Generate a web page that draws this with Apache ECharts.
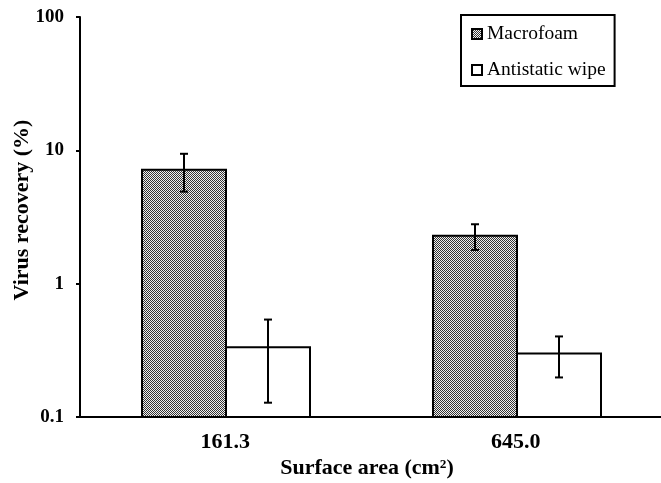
<!DOCTYPE html>
<html>
<head>
<meta charset="utf-8">
<script src="https://cdn.jsdelivr.net/npm/echarts@6/dist/echarts.min.js"></script>
<style>
  html, body { margin: 0; padding: 0; background: #fff; }
  #chart { width: 661px; height: 483px; }
</style>
</head>
<body>
<div id="chart"></div>
<script>
const categories = ["161.3", "645.0"];
const macrofoam = [7.16, 2.29];
const macrofoamErr = [2.26, 0.5];
const antistatic = [0.333, 0.3];
const antistaticErr = [0.205, 0.102];
const yBase = 0.1;

const font = "Liberation Serif";
const barW = 84;
const shift = 1; // bars sit a touch right of the band centre in the original

// fine grey checker fill like the original bars
function checker() {
  const c = document.createElement("canvas");
  c.width = 2;
  c.height = 2;
  const ctx = c.getContext("2d");
  ctx.fillStyle = "#f0f0f0";
  ctx.fillRect(0, 0, 2, 2);
  ctx.fillStyle = "#353535";
  ctx.fillRect(0, 0, 1, 1);
  ctx.fillRect(1, 1, 1, 1);
  return c;
}

// bars drawn from the 0.1 floor of the log axis (bar series would start at 1)
function barSeries(name, values, offset, fill) {
  return {
    name,
    type: "custom",
    z: 2,
    itemStyle: { color: fill, borderColor: "#000", borderWidth: 2 },
    data: values.map((v, i) => [i, v]),
    renderItem(params, api) {
      const top = api.coord([api.value(0), api.value(1)]);
      const bottom = api.coord([api.value(0), yBase]);
      const x = Math.round(top[0] + offset - barW / 2) + shift;
      return {
        type: "rect",
        shape: { x, y: top[1], width: barW, height: bottom[1] - top[1] },
        style: Object.assign(api.style(), { stroke: "#000", lineWidth: 2 }),
      };
    },
  };
}

function errorSeries(values, errs, offset) {
  return {
    type: "custom",
    z: 5,
    silent: true,
    data: values.map((v, i) => [i, v, errs[i]]),
    renderItem(params, api) {
      const i = api.value(0);
      const v = api.value(1);
      const e = api.value(2);
      const hi = api.coord([i, v + e]);
      const lo = api.coord([i, v - e]);
      const x = Math.round(hi[0] + offset) + shift;
      const cap = 4;
      const style = { stroke: "#000", lineWidth: 2 };
      return {
        type: "group",
        children: [
          { type: "line", shape: { x1: x, y1: hi[1], x2: x, y2: lo[1] }, style },
          { type: "line", shape: { x1: x - cap, y1: hi[1], x2: x + cap, y2: hi[1] }, style },
          { type: "line", shape: { x1: x - cap, y1: lo[1], x2: x + cap, y2: lo[1] }, style },
        ],
      };
    },
  };
}

const myChart = echarts.init(document.getElementById("chart"));
myChart.setOption({
  animation: false,
  backgroundColor: "#fff",
  textStyle: { fontFamily: font },
  grid: { left: 80, top: 17, width: 585, height: 400 },
  legend: {
    orient: "vertical",
    left: 461,
    top: 15,
    data: ["Macrofoam", "Antistatic wipe"],
    icon: "rect",
    itemWidth: 10,
    itemHeight: 10,
    itemGap: 16,
    padding: [9, 9, 6, 10],
    borderColor: "#000",
    borderWidth: 2,
    textStyle: { fontFamily: font, fontSize: 19.5, color: "#000" },
  },
  xAxis: {
    type: "category",
    data: categories,
    axisTick: { show: false },
    axisLine: { lineStyle: { color: "#000", width: 2 } },
    axisLabel: {
      color: "#000",
      fontFamily: font,
      fontWeight: "bold",
      fontSize: 22,
      margin: 14,
    },
  },
  yAxis: {
    type: "log",
    logBase: 10,
    min: 0.1,
    max: 100,
    splitLine: { show: false },
    axisLine: { show: true, lineStyle: { color: "#000", width: 2 } },
    axisTick: { show: true, length: 4, lineStyle: { color: "#000", width: 2 } },
    axisLabel: {
      color: "#000",
      fontFamily: font,
      fontWeight: "bold",
      fontSize: 19,
      margin: 16,
    },
  },
  graphic: [
    {
      type: "text",
      x: 22,
      y: 210,
      rotation: Math.PI / 2,
      style: {
        text: "Virus recovery (%)",
        fontFamily: font,
        fontWeight: "bold",
        fontSize: 22,
        fill: "#000",
        align: "center",
        verticalAlign: "middle",
      },
    },
    {
      type: "text",
      x: 367,
      y: 468,
      style: {
        text: "Surface area (cm²)",
        fontFamily: font,
        fontWeight: "bold",
        fontSize: 22,
        fill: "#000",
        align: "center",
        verticalAlign: "middle",
      },
    },
  ],
  series: [
    barSeries("Macrofoam", macrofoam, -barW / 2, { image: checker(), repeat: "repeat" }),
    barSeries("Antistatic wipe", antistatic, barW / 2, "#fff"),
    errorSeries(macrofoam, macrofoamErr, -barW / 2),
    errorSeries(antistatic, antistaticErr, barW / 2),
  ],
});
</script>
</body>
</html>
